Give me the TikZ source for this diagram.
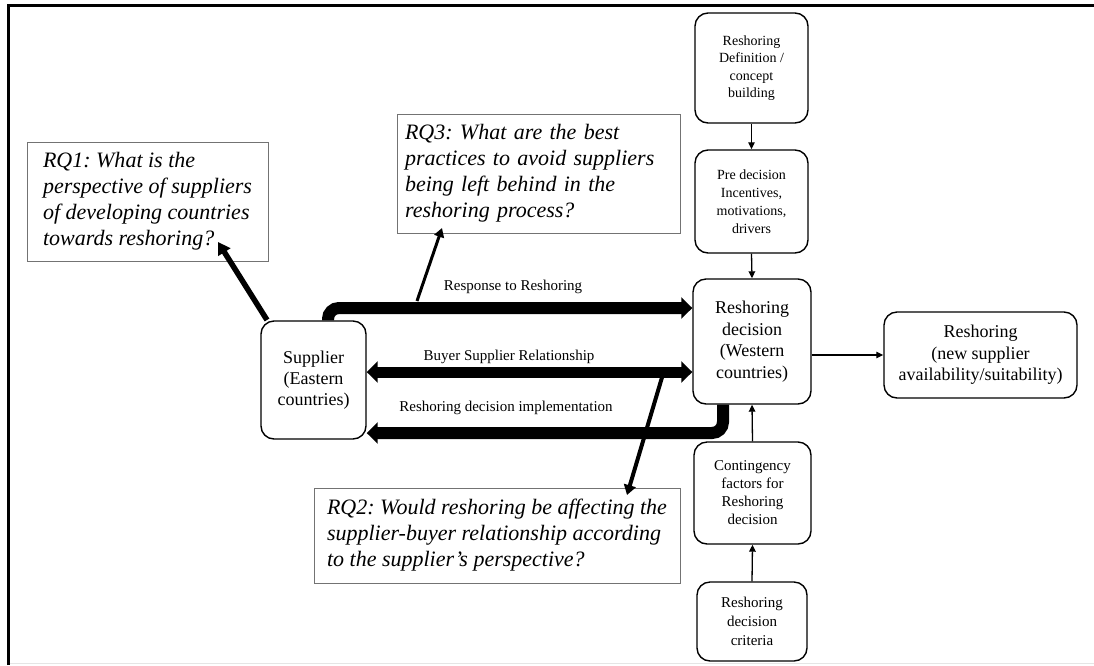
\documentclass[tikz,border=0pt]{standalone}
\usepackage{fontspec}
\setmainfont{Liberation Serif}
\usetikzlibrary{arrows.meta}
\frenchspacing
\begin{document}
\begin{tikzpicture}[x=1pt,y=-1pt,
  stage/.style={draw, line width=1.4pt, rounded corners=13pt, align=center, inner sep=0pt},
  question/.style={draw=black!55, line width=0.9pt, align=left, inner sep=0pt,
    font=\fontsize{22}{26}\selectfont\itshape\frenchspacing},
  flowlabel/.style={font=\fontsize{15}{18}\selectfont, inner sep=0pt},
  link/.style={line width=1.3pt, -{Triangle[length=7pt,width=6.5pt]}},
  bigflow/.style={line width=12pt, rounded corners=11pt, -{Triangle[length=11pt,width=21pt]}},
  bigflowboth/.style={line width=11pt, {Triangle[length=11pt,width=21pt]}-{Triangle[length=11pt,width=21pt]}},
]
\useasboundingbox (0,0) rectangle (1094,665);

% page frame
\draw[line width=3pt] (8.5,665) -- (8.5,5.5) -- (1094,5.5);
\draw[black!10, line width=1.5pt] (10,663.5) -- (1094,663.5);

% decision chain
\node[stage, minimum width=113pt, minimum height=110pt, font=\fontsize{14}{17.5}\selectfont] (def) at (751.5,68) {Reshoring\\Definition /\\concept\\building};
\node[stage, minimum width=113pt, minimum height=103pt, font=\fontsize{14}{18}\selectfont] (pre) at (751.5,201.5) {Pre decision\\Incentives,\\motivations,\\drivers};
\node[stage, minimum width=118pt, minimum height=125pt, font=\fontsize{18}{21.5}\selectfont] (dec) at (752,341.5) {Reshoring\\decision\\(Western\\countries)};
\node[stage, minimum width=117pt, minimum height=102pt, font=\fontsize{15}{18}\selectfont] (cont) at (752.5,493) {Contingency\\factors for\\Reshoring\\decision};
\node[stage, minimum width=110pt, minimum height=79pt, font=\fontsize{15}{19}\selectfont] (crit) at (752,621.5) {Reshoring\\decision\\criteria};
\node[stage, minimum width=193pt, minimum height=86pt, font=\fontsize{18}{21.5}\selectfont] (new) at (980.5,355) {Reshoring\\(new supplier\\availability/suitability)};
\node[stage, minimum width=105pt, minimum height=118pt, font=\fontsize{18}{21}\selectfont] (sup) at (313.5,380) {Supplier\\(Eastern\\countries)};

% research questions
\node[question, minimum width=241pt, minimum height=119pt] (rq1) at (147.5,201.5) {RQ1: What is the\\perspective of suppliers\\of developing countries\\towards reshoring?};
\node[question, text width=267pt, inner xsep=8pt, minimum height=119pt] (rq3) at (538.5,173.5) {RQ3: What are the best\\practices to avoid suppliers\\being left behind in the\\reshoring process?};
\node[question, minimum width=366pt, minimum height=95pt] (rq2) at (497,535.5) {RQ2: Would reshoring be affecting the\\supplier-buyer relationship according\\to the supplier’s perspective?};

% thin links
\draw[link] (def.south) -- (pre.north);
\draw[link] (pre.south) -- (dec.north);
\draw[link] (cont.north) -- (dec.south);
\draw[link] (crit.north) -- (cont.south);
\draw[link] (dec.east |- new.west) -- (new.west);

% main flows
\coordinate (resp) at (328,308);
\coordinate (rel) at (0,372);
\coordinate (impl) at (723,433);
\draw[bigflow] (sup.north -| resp) |- (dec.west |- resp);
\draw[bigflowboth] (sup.east |- rel) -- (dec.west |- rel);
\draw[bigflow] (dec.south -| impl) |- (sup.east |- impl);

\node[flowlabel] (lresp) at (513,287) {Response to Reshoring};
\node[flowlabel] (lrel) at (509,357) {Buyer Supplier Relationship};
\node[flowlabel] (limpl) at (506,408) {Reshoring decision implementation};

% pointers to the research questions
\coordinate (q1a) at (267,320);
\coordinate (q1b) at (218,242);
\coordinate (q3a) at (417,301);
\coordinate (q3b) at (442,228);
\coordinate (q2a) at (663,374);
\coordinate (q2b) at (627,495);
\draw[line width=5.5pt, -{Triangle[length=12pt,width=14pt]}] (q1a) -- (q1b);
\draw[line width=3pt, -{Triangle[length=9pt,width=10pt]}] (q3a) -- (q3b);
\draw[line width=4pt, -{Triangle[length=10pt,width=12pt]}] (q2a) -- (q2b);
\end{tikzpicture}
\end{document}
